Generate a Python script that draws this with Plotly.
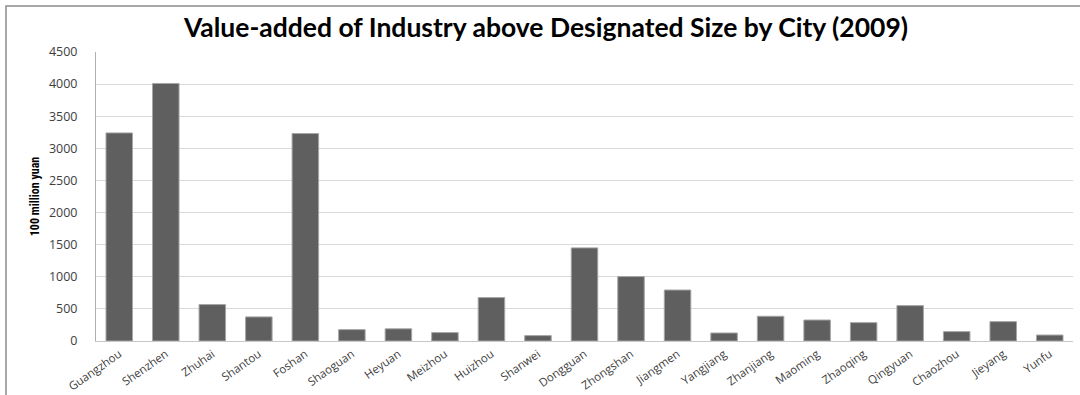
import plotly.graph_objects as go

cities = ["Guangzhou", "Shenzhen", "Zhuhai", "Shantou", "Foshan", "Shaoguan", "Heyuan",
          "Meizhou", "Huizhou", "Shanwei", "Dongguan", "Zhongshan", "Jiangmen", "Yangjiang",
          "Zhanjiang", "Maoming", "Zhaoqing", "Qingyuan", "Chaozhou", "Jieyang", "Yunfu"]
values = [3240, 4010, 567, 375, 3230, 177, 190, 131, 676, 84, 1450, 1003, 794, 125,
          385, 327, 286, 551, 146, 302, 93]
y_ticks = [0, 500, 1000, 1500, 2000, 2500, 3000, 3500, 4000, 4500]

W, H = 1080, 395
ml, mr, mt, mb = 96, 7, 52, 54
pw, ph = W - ml - mr, H - mt - mb

fig = go.Figure(go.Bar(
    x=cities, y=values,
    marker=dict(color="#5f5f5f", line=dict(color="#a6a6a6", width=1)),
    hoverinfo="x+y",
))

fig.update_layout(
    width=W, height=H,
    margin=dict(l=ml, r=mr, t=mt, b=mb, pad=0),
    paper_bgcolor="white", plot_bgcolor="white",
    bargap=0.43,
    showlegend=False,
    title=dict(text="<b>Value-added of Industry above Designated Size by City (2009)</b>",
               x=(546 - ml) / pw, xref="paper", xanchor="center", y=1 - 28 / H, yanchor="middle",
               font=dict(family="Lato, Open Sans, sans-serif", size=26.5, color="#000000")),
    font=dict(family="Open Sans, sans-serif", size=11, color="#404040"),
    xaxis=dict(tickangle=-35, showgrid=False, showline=True, linecolor="#c8c8c8",
               linewidth=1, ticks="", ticklabelstandoff=1, automargin=False,
               tickfont=dict(size=11.5, color="#404040")),
    yaxis=dict(range=[0, 4500], tickvals=y_ticks, showgrid=True, gridcolor="#d9d9d9",
               gridwidth=1, showline=True, linecolor="#b0b0b0", linewidth=1, ticks="",
               ticklabelstandoff=15, automargin=False,
               tickfont=dict(size=12.5, color="#404040"), zeroline=False,
               title=dict(text="<b>100 million yuan</b>", standoff=6,
                          font=dict(family="Liberation Sans Narrow, Roboto Condensed, sans-serif",
                                    size=12, color="#000000"))),
    shapes=[dict(type="rect", xref="paper", yref="paper",
                 x0=(6 - ml) / pw, x1=(W + 20 - ml) / pw,
                 y0=-(H + 20 - mt - ph) / ph, y1=(H - 6 - mb) / ph,
                 line=dict(color="#8c8c8c", width=1.5), fillcolor="rgba(0,0,0,0)",
                 layer="below")],
)

fig.write_html("out.html")
